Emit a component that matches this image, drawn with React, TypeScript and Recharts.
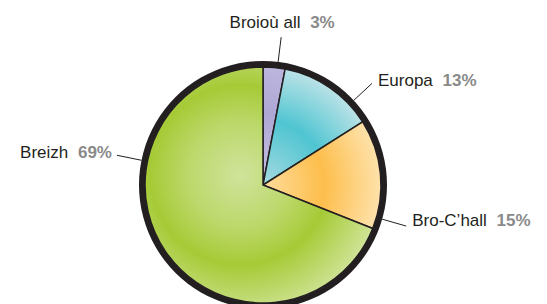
import React from 'react';
import { PieChart, Pie, Cell } from 'recharts';

const categories = ['Broioù all', 'Europa', 'Bro-C’hall', 'Breizh'];
const shares = [3, 13, 15, 69];
const ringData = [{ name: 'ring', value: 1 }];

const data = categories.map((name, i) => ({ name, value: shares[i] }));

const CX = 263;
const CY = 185;
const R = 118;
const RING_OUT = 124;

// leader angles, degrees clockwise from 12 o'clock (styling)
const labelAngles = [7, 47, 106, 281.5];

const fills = ['url(#gPurple)', 'url(#gBlue)', 'url(#gOrange)', 'url(#gGreen)'];

const renderLabel = (props: any) => {
  const { index } = props;
  const cx = props.cx ?? CX;
  const cy = props.cy ?? CY;
  const a = (labelAngles[index] * Math.PI) / 180;
  const r1 = RING_OUT;
  const r2 = 149;
  const x1 = cx + r1 * Math.sin(a);
  const y1 = cy - r1 * Math.cos(a);
  const x2 = cx + r2 * Math.sin(a);
  const y2 = cy - r2 * Math.cos(a);
  let tx = x2;
  let ty = y2 + 3;
  let anchor: 'start' | 'end' | 'middle' = 'start';
  if (index === 0) {
    anchor = 'middle';
    tx = x2 + 1;
    ty = y2 - 9;
  } else if (labelAngles[index] > 180) {
    anchor = 'end';
    tx = x2 - 5;
  } else {
    tx = x2 + 6;
    if (index === 2) ty = y2;
  }
  return (
    <g key={`lbl-${index}`}>
      <line x1={x1} y1={y1} x2={x2} y2={y2} stroke="#231f20" strokeWidth={1} />
      <text
        x={tx}
        y={ty}
        textAnchor={anchor}
        fontFamily="'Liberation Sans', Arial, sans-serif"
        fontSize={17}
      >
        <tspan fill="#231f20">{categories[index]}</tspan>
        <tspan fill="#8a8a8a" fontWeight="bold" dx={5}>{` ${shares[index]}%`}</tspan>
      </text>
    </g>
  );
};

export default function App() {
  return (
    <div style={{ position: 'absolute', left: 0, top: 0, width: 547, height: 304, background: '#fff' }}>
      <PieChart width={547} height={304} margin={{ top: 0, right: 0, bottom: 0, left: 0 }}>
        <defs>
          <radialGradient id="gPurple" gradientUnits="userSpaceOnUse" cx={CX} cy={CY} r={R}>
            <stop offset="0%" stopColor="#c6c1e4" />
            <stop offset="60%" stopColor="#aea7d4" />
            <stop offset="100%" stopColor="#bcb6de" />
          </radialGradient>
          <radialGradient id="gBlue" gradientUnits="userSpaceOnUse" cx={CX} cy={CY} r={R}>
            <stop offset="0%" stopColor="#a6dae1" />
            <stop offset="55%" stopColor="#4fc5d1" />
            <stop offset="100%" stopColor="#bae2e7" />
          </radialGradient>
          <radialGradient id="gOrange" gradientUnits="userSpaceOnUse" cx={CX} cy={CY} r={R}>
            <stop offset="0%" stopColor="#fedc9c" />
            <stop offset="52%" stopColor="#fdbe4c" />
            <stop offset="100%" stopColor="#fee2ab" />
          </radialGradient>
          <radialGradient id="gGreen" gradientUnits="userSpaceOnUse" cx={240} cy={175} r={150}>
            <stop offset="0%" stopColor="#d0e39b" />
            <stop offset="35%" stopColor="#bcd86a" />
            <stop offset="60%" stopColor="#a6ca36" />
            <stop offset="100%" stopColor="#d5e7a3" />
          </radialGradient>
        </defs>
        <Pie
          data={data}
          dataKey="value"
          nameKey="name"
          cx={CX}
          cy={CY}
          innerRadius={0}
          outerRadius={R}
          startAngle={90}
          endAngle={-270}
          stroke="#231f20"
          strokeWidth={1.5}
          label={renderLabel}
          labelLine={false}
          isAnimationActive={false}
        >
          {data.map((d, i) => (
            <Cell key={d.name} fill={fills[i]} />
          ))}
        </Pie>
        <Pie
          data={ringData}
          dataKey="value"
          cx={CX}
          cy={CY}
          innerRadius={R}
          outerRadius={RING_OUT}
          startAngle={90}
          endAngle={-270}
          fill="#231f20"
          stroke="none"
          isAnimationActive={false}
        />
      </PieChart>
    </div>
  );
}
